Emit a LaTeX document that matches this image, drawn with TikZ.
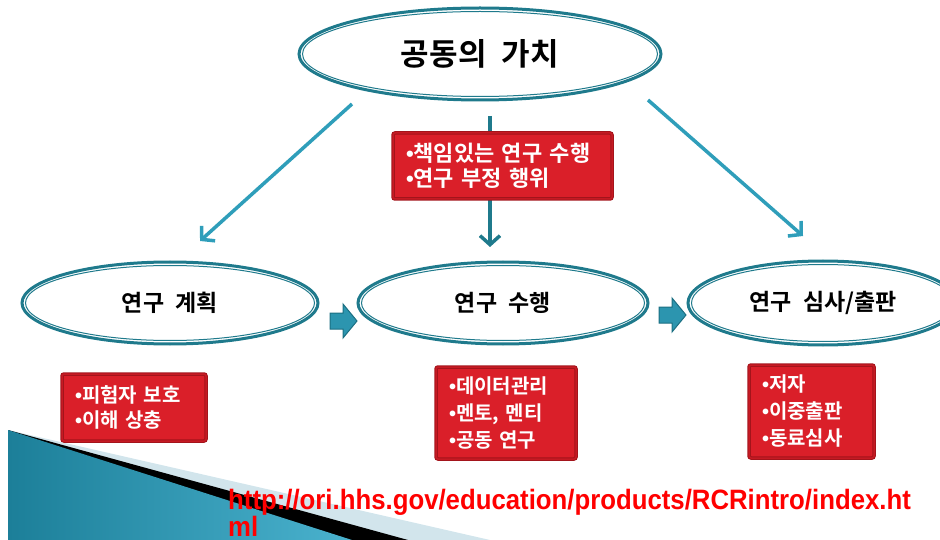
\documentclass[tikz,border=0pt]{standalone}
\usepackage{graphicx}
\usepackage{fontspec}
\setmainfont{Noto Sans CJK KR}[WordSpace=2.2,BoldFont={Noto Sans CJK KR Bold}]
\newfontfamily\latinfont{Liberation Sans}
\usetikzlibrary{shapes.geometric,arrows.meta}
\definecolor{tealdark}{HTML}{1F7A8C}
\definecolor{tealarrow}{HTML}{2F9EBA}
\definecolor{boxred}{HTML}{DA1F29}
\definecolor{boxdark}{HTML}{A3141B}
\definecolor{boxmid}{HTML}{C61A23}
\definecolor{urlred}{HTML}{FF0000}
\definecolor{blockfill}{HTML}{2C95AF}
\definecolor{blockline}{HTML}{1B6F82}
\definecolor{bglight}{HTML}{D2E5EC}
\definecolor{wedgeA}{HTML}{1C7F99}
\definecolor{wedgeB}{HTML}{4AB2CE}
\newcommand{\bul}{{\latinfont •}}
\tikzset{
  ell/.style={ellipse, draw=tealdark, line width=3pt, fill=white, inner sep=0pt, text=black},
  inner/.style={draw=tealdark, line width=1pt},
  redbox/.style={rectangle, rounded corners=2pt, fill=boxred, draw=boxdark, line width=1pt,
     double=boxmid, double distance=1.5pt, text=white, align=left, inner xsep=13pt, inner ysep=0pt},
  conn/.style={line width=3.5pt, draw=tealarrow, -{Straight Barb[length=9pt,width=20pt]}},
  conndark/.style={line width=3.5pt, draw=tealdark, -{Straight Barb[length=9pt,width=20pt]}},
  blockarrow/.style={fill=blockfill, draw=blockline, line width=1pt, line join=miter},
  urltext/.style={anchor=base west, inner sep=0pt, text=urlred, font=\latinfont\bfseries\fontsize{28}{28}\selectfont},
}
\begin{document}
\begin{tikzpicture}[x=1pt,y=-1pt]
\useasboundingbox (0,0) rectangle (940,540);
% bottom-left decoration
\fill[bglight] (8,430) -- (490,540) -- (8,540) -- cycle;
\fill[black] (8,430) -- (408,540) -- (8,540) -- cycle;
\shade[left color=wedgeA, right color=wedgeB] (8,430) -- (352,540) -- (8,540) -- cycle;

% ellipses
\node[ell, minimum width=362pt, minimum height=92pt, font=\bfseries\fontsize{31}{31}\selectfont] (top) at (480,54) {공동의 가치};
\draw[inner] (top.center) ellipse [x radius=177.5pt, y radius=42.5pt];
\node[ell, minimum width=296pt, minimum height=82pt, font=\bfseries\fontsize{23}{23}\selectfont] (plan) at (170,303) {연구 계획};
\draw[inner] (plan.center) ellipse [x radius=144.5pt, y radius=37.5pt];
\node[ell, minimum width=290pt, minimum height=82pt, font=\bfseries\fontsize{23}{23}\selectfont] (do) at (503,303) {연구 수행};
\draw[inner] (do.center) ellipse [x radius=141.5pt, y radius=37.5pt];
\node[ell, minimum width=270pt, minimum height=84pt, font=\bfseries\fontsize{23}{23}\selectfont] (pub) at (823,303) {연구 심사/출판};
\draw[inner] (pub.center) ellipse [x radius=131.5pt, y radius=38.5pt];

% connectors
\coordinate (lA) at (352,104);
\coordinate (lB) at (200,241);
\coordinate (rA) at (648,100);
\coordinate (rB) at (803,236);
\coordinate (cA) at (490,116);
\coordinate (cB) at (490,247);
\draw[conn] (lA) -- (lB);
\draw[conn] (rA) -- (rB);
\draw[conndark] (cA) -- (cB);

% block arrows
\coordinate (ba1) at (330,305);
\coordinate (ba2) at (659,299);
\foreach \c in {ba1,ba2}{
  \draw[blockarrow] ([yshift=-8pt]\c) -- ++(13,0) -- ++(0,-9) -- ++(14,17) -- ++(-14,17) -- ++(0,-9) -- ++(-13,0) -- cycle;
}

% red boxes
\node[redbox, minimum width=219pt, minimum height=66pt, text width=193pt,
      font=\bfseries\fontsize{22}{25}\selectfont] (b0) at (502.5,166)
      {\bul 책임있는 연구 수행\\\bul 연구 부정 행위};
\node[redbox, minimum width=144pt, minimum height=67pt, text width=118pt,
      font=\bfseries\fontsize{20}{25}\selectfont] (b1) at (134,407.5)
      {\bul 피험자 보호\\\bul 이해 상충};
\node[redbox, minimum width=138pt, minimum height=92pt, text width=114pt,
      font=\bfseries\fontsize{20}{27}\selectfont] (b2) at (506,413)
      {\bul 데이터관리\\\bul 멘토, 멘티\\\bul 공동 연구};
\node[redbox, minimum width=125pt, minimum height=93pt, text width=99pt,
      font=\bfseries\fontsize{20}{27}\selectfont] (b3) at (811.5,411.5)
      {\bul 저자\\\bul 이중출판\\\bul 동료심사};

% url
\node[urltext] (url1) at (228,509)
  {\scalebox{0.92}[1]{http://ori.hhs.gov/education/products/RCRintro/index.ht}};
\node[urltext] (url2) at (228,536)
  {\scalebox{0.92}[1]{ml}};
\end{tikzpicture}
\end{document}
